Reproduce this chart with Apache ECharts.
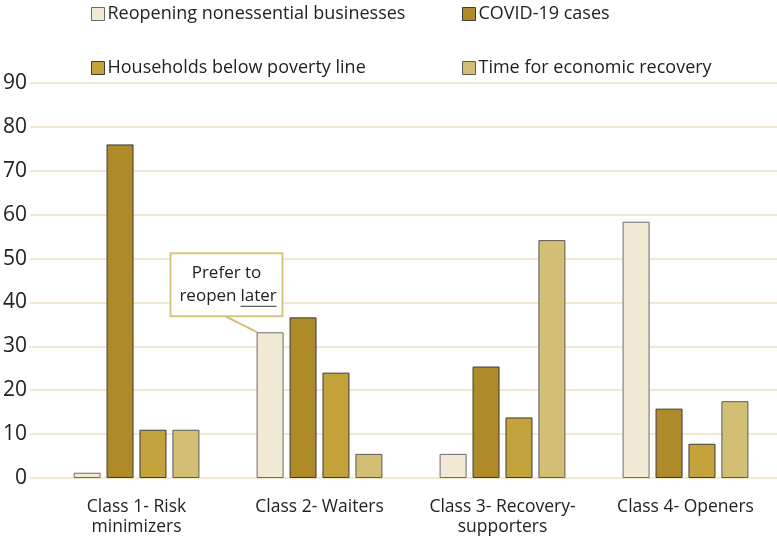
<!DOCTYPE html>
<html><head><meta charset="utf-8">
<script src="https://cdn.jsdelivr.net/npm/echarts@6/dist/echarts.min.js"></script>
<style>html,body{margin:0;padding:0;background:#fff}#c{width:777px;height:537px}</style>
</head><body><div id="c"></div>
<script>
const categories = ['Class 1- Risk\nminimizers', 'Class 2- Waiters', 'Class 3- Recovery-\nsupporters', 'Class 4- Openers'];
const seriesNames = ['Reopening nonessential businesses', 'COVID-19 cases', 'Households below poverty line', 'Time for economic recovery'];
const reopening = [1.2, 33.2, 5.5, 58.4];
const covid = [76, 36.6, 25.4, 15.8];
const poverty = [11, 24, 13.8, 7.8];
const recovery = [11, 5.5, 54.2, 17.5];
const yTicks = [0, 10, 20, 30, 40, 50, 60, 70, 80, 90];
const annotationLines = ['Prefer to', 'reopen', 'later'];

const colors = ['#f2e9d4', '#ae8a28', '#c4a23c', '#d3bf74'];
const borders = ['#6b6b6b', '#3a3a3a', '#3a3a3a', '#5a5a5a'];
const FONT = '"Open Sans", sans-serif';

const chart = echarts.init(document.getElementById('c'), null, {renderer: 'canvas'});
const values = [reopening, covid, poverty, recovery];

const legendPos = [[86, 0], [457, 0], [86, 54], [457, 54]];
const legends = seriesNames.map((n, i) => ({
  data: [n], left: legendPos[i][0], top: legendPos[i][1], itemWidth: 13, itemHeight: 13,
  icon: 'rect', itemGap: 6, selectedMode: false,
  textStyle: {fontFamily: FONT, fontSize: 18, color: '#222', padding: [0, 0, 0, -2]},
  itemStyle: {borderColor: borders[i], borderWidth: 1}
}));

chart.setOption({
  animation: false,
  legend: legends,
  grid: [
    {left: 45, width: 732, top: 83, height: 395},
    {left: 30, right: 0, top: 83, height: 395}
  ],
  xAxis: [
    {type: 'category', data: categories, gridIndex: 0,
     axisLine: {show: false}, axisTick: {show: false},
     axisLabel: {fontFamily: FONT, fontSize: 17.5, color: '#222', margin: 19, lineHeight: 20, interval: 0}},
    {type: 'category', data: categories, gridIndex: 1, show: false}
  ],
  yAxis: [
    {type: 'value', gridIndex: 0, min: 0, max: 90, interval: 10,
     axisLine: {show: false}, axisTick: {show: false}, splitLine: {show: false},
     axisLabel: {fontFamily: FONT, fontSize: 21, color: '#222', margin: 18,
       formatter: v => yTicks.includes(v) ? String(v) : ''}},
    {type: 'value', gridIndex: 1, min: 0, max: 90, interval: 10,
     axisLine: {show: false}, axisTick: {show: false}, axisLabel: {show: false},
     splitLine: {lineStyle: {color: '#f1e9cf', width: 2}}}
  ],
  series: seriesNames.map((n, i) => ({
    name: n, type: 'bar', data: values[i], xAxisIndex: 0, yAxisIndex: 0,
    barWidth: 27, barGap: '22%',
    itemStyle: {color: colors[i], borderColor: borders[i], borderWidth: 1}
  }))
});

// annotation callout anchored to Class 2 reopening bar
const pt = chart.convertToPixel({xAxisIndex: 0, yAxisIndex: 0}, [1, reopening[1]]);
const barLeft = pt[0] - 63;
const bx = pt[0] - 149, by = pt[1] - 79, bw = 112, bh = 63;
chart.setOption({
  graphic: [
    {type: 'line', shape: {x1: bx + 55, y1: by + bh, x2: barLeft + 1, y2: pt[1]}, style: {stroke: '#d3bf74', lineWidth: 2}, z: 10},
    {type: 'rect', shape: {x: bx, y: by, width: bw, height: bh}, style: {fill: '#fff', stroke: '#d9c67e', lineWidth: 2}, z: 11},
    {type: 'text', x: bx + bw / 2, y: by + 20, style: {text: annotationLines[0], font: '17px ' + FONT, fill: '#222', align: 'center', verticalAlign: 'middle'}, z: 12},
    {type: 'text', x: bx + 66, y: by + 43, style: {text: annotationLines[1], font: '17px ' + FONT, fill: '#222', align: 'right', verticalAlign: 'middle'}, z: 12},
    {type: 'text', x: bx + 70, y: by + 43, style: {text: annotationLines[2], font: '17px ' + FONT, fill: '#222', align: 'left', verticalAlign: 'middle'}, z: 12},
    {type: 'line', shape: {x1: bx + 70, y1: by + 53, x2: bx + 106, y2: by + 53}, style: {stroke: '#333', lineWidth: 1}, z: 12}
  ]
});
</script></body></html>
